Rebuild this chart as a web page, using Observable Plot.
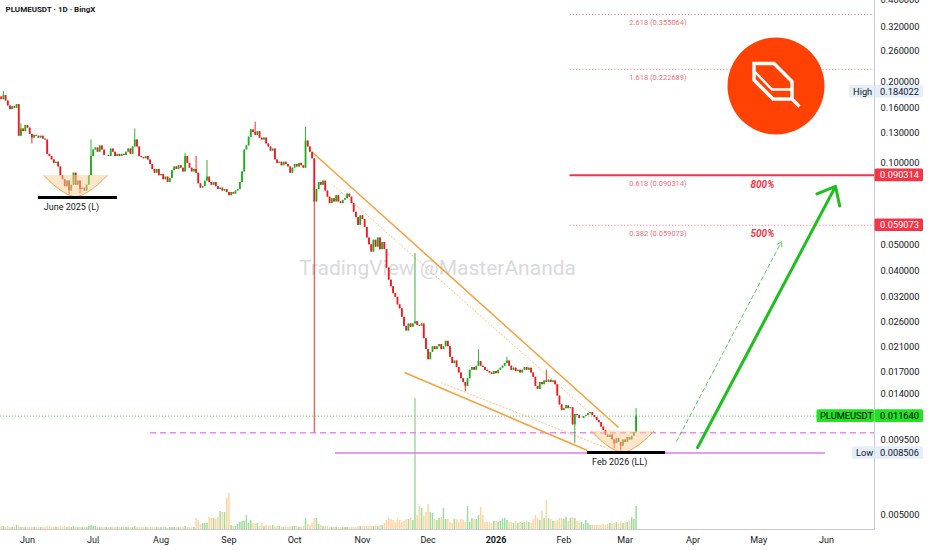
<!DOCTYPE html>
<html><head><meta charset="utf-8">
<script src="https://cdn.jsdelivr.net/npm/d3@7"></script>
<script src="https://cdn.jsdelivr.net/npm/@observablehq/plot@0.6"></script>
<style>
body{margin:0;background:#fff;font-family:Roboto,sans-serif;}
#wrap{position:relative;width:932px;height:550px;overflow:hidden;background:#fff;}
#wrap svg{position:absolute;left:0;top:0;}
</style></head><body><div id="wrap"></div>
<script>
// ---------- data ----------
const title = "PLUMEUSDT · 1D · BingX";
const watermark = "TradingView @MasterAnanda";
const firstDay = Date.UTC(2025, 4, 20);
const firstOpen = 0.176;
const closeMay25 = [0.172,0.178,0.170,0.163,0.158,0.162,0.160,0.165,0.126,0.134,0.131,0.138];
const closeJun25 = [0.135,0.128,0.124,0.127,0.126,0.124,0.126,0.123,0.122,0.108,0.106,0.103,0.100,0.101,0.097,0.090,0.087,0.082,0.086,0.079,0.083,0.092,0.083,0.086,0.080,0.081,0.079,0.083,0.090,0.106];
const closeJul25 = [0.112,0.114,0.110,0.116,0.112,0.107,0.107,0.106,0.113,0.110,0.106,0.108,0.106,0.108,0.107,0.110,0.113,0.108,0.115,0.122,0.115,0.106,0.105,0.104,0.106,0.103,0.099,0.095,0.092,0.095,0.090];
const closeAug25 = [0.091,0.087,0.089,0.085,0.088,0.094,0.097,0.095,0.098,0.096,0.093,0.106,0.100,0.096,0.093,0.095,0.092,0.084,0.081,0.082,0.086,0.089,0.085,0.083,0.085,0.082,0.080,0.081,0.079,0.080,0.078];
const closeSep25 = [0.076,0.078,0.077,0.079,0.080,0.085,0.093,0.112,0.116,0.125,0.133,0.130,0.127,0.131,0.124,0.122,0.124,0.118,0.115,0.111,0.113,0.103,0.100,0.101,0.098,0.101,0.099,0.097,0.092,0.096];
const closeOct25 = [0.099,0.097,0.100,0.098,0.096,0.121,0.115,0.110,0.104,0.072,0.080,0.085,0.083,0.086,0.079,0.075,0.071,0.074,0.072,0.076,0.072,0.071,0.073,0.074,0.077,0.075,0.071,0.066,0.063,0.059,0.064];
const closeNov25 = [0.062,0.058,0.053,0.050,0.047,0.052,0.049,0.053,0.048,0.051,0.048,0.041,0.037,0.035,0.033,0.032,0.030,0.029,0.027,0.025,0.024,0.0255,0.0248,0.0255,0.0260,0.0252,0.0250,0.0255,0.0225,0.0205];
const closeDec25 = [0.0188,0.0200,0.0210,0.0205,0.0210,0.0214,0.0205,0.0210,0.0220,0.0210,0.0192,0.0182,0.0186,0.0176,0.0168,0.0160,0.0155,0.0150,0.0160,0.0172,0.0176,0.0172,0.0178,0.0185,0.0178,0.0176,0.0172,0.0170,0.0168,0.0166,0.0170];
const closeJan26 = [0.0167,0.0172,0.0175,0.0178,0.0182,0.0186,0.0178,0.0172,0.0175,0.0170,0.0172,0.0168,0.0172,0.0176,0.0172,0.0175,0.0168,0.0162,0.0150,0.0146,0.0155,0.0152,0.0157,0.0155,0.0158,0.0155,0.0157,0.0152,0.0138,0.0128,0.0122];
const closeFeb26 = [0.0124,0.0127,0.0124,0.0125,0.0108,0.0118,0.0117,0.0114,0.0114,0.0116,0.0117,0.0119,0.0120,0.0117,0.0115,0.0112,0.0110,0.0106,0.0103,0.0099,0.0097,0.0099,0.0095,0.0092,0.0096,0.0093,0.0090,0.0095];
const closeMar26 = [0.0093,0.0097,0.0095,0.0098,0.0101,0.01164];

const volMay25 = [3,3,2,3,2,2,2,4,3,2,2,2];
const volJun25 = [2,2,2,2,2,2,2,2,2,3,3,2,2,2,2,3,2,3,2,3,2,3,2,2,2,2,2,2,3,4];
const volJul25 = [3,3,2,2,2,2,2,2,2,2,2,2,2,2,2,2,2,2,2,3,2,2,2,2,2,2,2,2,2,2,2];
const volAug25 = [2,2,2,1,2,2,2,2,2,2,2,3,2,2,2,2,11,9,5,6,6,6,12,11,11,10,12,18,17,17,31];
const volSep25 = [36,4,3,3,5,7,8,8,14,6,9,6,5,6,3,6,3,4,3,3,4,3,3,3,2,2,3,2,3,3];
const volOct25 = [3,3,2,2,3,11,5,4,6,11,11,5,4,3,3,3,2,2,2,2,2,2,2,2,2,2,2,2,2,3,3];
const volNov25 = [3,3,3,3,3,3,4,3,4,4,6,9,11,10,9,7,11,9,7,8,10,10,11,9,131,14,23,21,13,17];
const volDec25 = [25,17,16,10,9,11,12,21,10,10,7,6,10,10,7,10,9,7,23,7,11,10,10,14,22,14,7,7,7,6,8];
const volJan26 = [8,7,8,10,11,9,7,7,6,8,6,7,6,7,8,7,6,10,14,11,9,18,11,29,11,10,8,8,9,11,11];
const volFeb26 = [10,12,8,11,12,11,8,6,7,5,9,6,4,4,4,4,4,4,5,4,5,6,5,6,7,5,8,6];
const volMar26 = [6,7,8,12,10,23];

const wickHighs = [["2025-05-21",0.184022],["2025-05-29",0.140],["2025-06-30",0.122],["2025-07-20",0.134],["2025-08-12",0.109],["2025-08-17",0.106],["2025-08-22",0.1025],["2025-09-13",0.142],["2025-10-06",0.136],["2025-11-25",0.0464],["2025-12-24",0.0205],["2026-01-06",0.0192],["2026-01-24",0.0172],["2026-03-06",0.0124]];
const wickLows = [["2025-06-03",0.118],["2025-06-20",0.0765],["2025-06-25",0.0772],["2025-10-10",0.0101],["2025-12-18",0.0143],["2026-02-06",0.0092],["2026-02-24",0.0088],["2026-02-27",0.008506]];

const yTicks = [0.4,0.32,0.26,0.2,0.16,0.13,0.1,0.08,0.065,0.05,0.04,0.032,0.026,0.021,0.017,0.014,0.0095,0.0075,0.0061,0.005];
const monthTicks = ["2025-06-01","2025-07-01","2025-08-01","2025-09-01","2025-10-01","2025-11-01","2025-12-01","2026-01-01","2026-02-01","2026-03-01","2026-04-01","2026-05-01","2026-06-01"];

const fibLevels = [{ratio:"2.618",price:0.355064},{ratio:"1.618",price:0.222689},{ratio:"0.618",price:0.090314},{ratio:"0.382",price:0.059073}];
const fibStart = "2026-02-03T20:00Z", fibLabelAt = "2026-03-16T00:00Z";
const targets = [{text:"800%",price:0.090314},{text:"500%",price:0.059073}];
const targetAt = "2026-05-02T17:00Z";
const supportDashed = {price:0.0101, from:"2025-07-27T05:00Z"};
const lowLine = {price:0.008506, from:"2025-10-19T17:00Z", to:"2026-05-31T12:00Z"};
const lowMarks = [
  {label:"June 2025 (L)", price:0.0748, from:"2025-06-06T00:00Z", to:"2025-07-12T02:00Z", at:"2025-06-21T02:00Z"},
  {label:"Feb 2026 (LL)", price:0.00853, from:"2026-02-11T19:00Z", to:"2026-03-19T12:00Z", at:"2026-02-26T12:00Z"}
];
const bowl1 = {top:0.0902, pts:[["2025-06-08T13:00Z",0.0902],["2025-06-13T00:00Z",0.0832],["2025-06-17T14:00Z",0.0782],["2025-06-22T22:00Z",0.0754],["2025-06-28T06:00Z",0.0782],["2025-07-02T20:00Z",0.0832],["2025-07-07T08:00Z",0.0902]]};
const bowl2 = {top:0.01023, pts:[["2026-02-13T16:00Z",0.01023],["2026-02-18T01:00Z",0.009444],["2026-02-22T13:00Z",0.008876],["2026-02-27T19:00Z",0.00857],["2026-03-05T02:00Z",0.008876],["2026-03-09T14:00Z",0.009444],["2026-03-13T23:00Z",0.01023]]};
const trendSolid = [
  {x1:"2025-10-09T05:00Z",y1:0.1097,x2:"2026-02-26T00:00Z",y2:0.01056},
  {x1:"2025-11-20T05:00Z",y1:0.01687,x2:"2026-02-11T19:00Z",y2:0.00869}
];
const trendThin = [
  {x1:"2025-10-18T19:00Z",y1:0.0829,x2:"2026-02-25T12:00Z",y2:0.0097},
  {x1:"2025-12-06T17:00Z",y1:0.01549,x2:"2026-02-21T00:00Z",y2:0.00884}
];
const arrowSolid = [{x1:"2026-04-03T02:00Z",y1:0.00891,x2:"2026-06-05T02:00Z",y2:0.0822}];
const arrowDashed = [{x1:"2026-03-24T12:00Z",y1:0.00939,x2:"2026-05-11T11:00Z",y2:0.0514}];

// ---------- build ----------
const D = s => new Date(s);
const closes = [].concat(closeMay25,closeJun25,closeJul25,closeAug25,closeSep25,closeOct25,closeNov25,closeDec25,closeJan26,closeFeb26,closeMar26);
const vols = [].concat(volMay25,volJun25,volJul25,volAug25,volSep25,volOct25,volNov25,volDec25,volJan26,volFeb26,volMar26);
const hiMap = Object.fromEntries(wickHighs), loMap = Object.fromEntries(wickLows);
const candles = closes.map((c,i) => {
  const date = new Date(firstDay + i*864e5);
  const key = date.toISOString().slice(0,10);
  const o = i ? closes[i-1] : firstOpen;
  const h = Math.max(o, c, hiMap[key] ?? 0);
  const l = Math.min(o, c, loMap[key] ?? Infinity);
  return {date, o, c, h, l, v: vols[i], up: c >= o};
});
const lastClose = closes[closes.length-1];
const maxHigh = d3.max(candles, d => d.h), minLow = d3.min(candles, d => d.l);

const xDomain = [D("2025-05-19T16:00Z"), D("2026-06-22T21:40Z")];
const common = {width:932, height:550, marginLeft:0, marginRight:58, marginTop:0, marginBottom:21,
  style:{background:"transparent", fontFamily:"Roboto, sans-serif", overflow:"visible"}};
const upC = "#1aae1a", dnC = "#f4161c";

const volChart = Plot.plot({...common,
  x:{type:"utc", domain:xDomain, axis:null},
  y:{domain:[0,529], axis:null},
  marks:[
    Plot.ruleX(candles.filter(d=>d.up), {x:"date", y1:0, y2:"v", stroke:"rgba(55,190,55,0.5)", strokeWidth:1.5}),
    Plot.ruleX(candles.filter(d=>!d.up), {x:"date", y1:0, y2:"v", stroke:"rgba(255,160,45,0.45)", strokeWidth:1.5})
  ]});

const bowlRows = b => b.pts.map(([d,p]) => ({date:D(d), price:p, top:b.top}));
const T = a => a.map(d => ({...d, x1:D(d.x1), x2:D(d.x2)}));

const chart = Plot.plot({...common,
  x:{type:"utc", domain:xDomain},
  y:{type:"log", domain:[0.004434, 0.4]},
  marks:[
    Plot.text([title], {frameAnchor:"top-left", dx:5, dy:6, fontSize:8, fontWeight:"bold", fill:"#131722"}),
    Plot.text([watermark], {frameAnchor:"middle", dy:3, fontSize:21, fill:"#d9dadd"}),
    // horizontal levels
    Plot.ruleY([lastClose], {stroke:"#5fd35f", strokeDasharray:"1,2", strokeWidth:1}),
    Plot.ruleY([supportDashed], {y:"price", x1:d=>D(d.from), x2:()=>xDomain[1], stroke:"#e58cf2", strokeDasharray:"6,4", strokeWidth:1.5}),
    Plot.ruleY([lowLine], {y:"price", x1:d=>D(d.from), x2:d=>D(d.to), stroke:"#e07af0", strokeWidth:1.5}),
    Plot.ruleY(fibLevels.filter(d=>d.ratio!=="0.618"), {y:"price", x1:()=>D(fibStart), x2:()=>xDomain[1], stroke:"#f58a90", strokeDasharray:"1.2,2", strokeWidth:1}),
    Plot.ruleY(fibLevels.filter(d=>d.ratio==="0.618"), {y:"price", x1:()=>D(fibStart), x2:()=>xDomain[1], stroke:"#f23645", strokeWidth:2}),
    Plot.text(fibLevels, {x:()=>D(fibLabelAt), y:"price", text:d=>`${d.ratio} (${d.price.toFixed(6)})`, dy:8.5, fontSize:7.5, fill:"#f2707a"}),
    Plot.text(targets, {x:()=>D(targetAt), y:"price", text:"text", dy:9, fontSize:10, fontWeight:"bold", fontStyle:"italic", fill:"#f23645"}),
    // trend lines
    Plot.link(T(trendThin), {x1:"x1", y1:"y1", x2:"x2", y2:"y2", stroke:"#ffc27a", strokeWidth:1, strokeDasharray:"2,1.5"}),
    Plot.link(T(trendSolid), {x1:"x1", y1:"y1", x2:"x2", y2:"y2", stroke:"#f9a03c", strokeWidth:1.5}),
    // candles
    Plot.ruleX(candles, {x:"date", y1:"l", y2:"h", stroke:d=>d.up?upC:dnC, strokeWidth:0.9}),
    Plot.ruleX(candles, {x:"date", y1:"o", y2:"c", stroke:d=>d.up?upC:dnC, strokeWidth:1.8}),
    // bowls
    Plot.areaY(bowlRows(bowl1), {x:"date", y1:"top", y2:"price", curve:"natural", fill:"rgba(253,205,150,0.5)"}),
    Plot.line(bowlRows(bowl1), {x:"date", y:"price", curve:"natural", stroke:"#ff9a3c", strokeWidth:1}),
    Plot.areaY(bowlRows(bowl2), {x:"date", y1:"top", y2:"price", curve:"natural", fill:"rgba(253,205,150,0.5)"}),
    Plot.line(bowlRows(bowl2), {x:"date", y:"price", curve:"natural", stroke:"#ff9a3c", strokeWidth:1}),
    // low markers
    Plot.ruleY(lowMarks, {y:"price", x1:d=>D(d.from), x2:d=>D(d.to), stroke:"#000", strokeWidth:3}),
    Plot.text(lowMarks, {x:d=>D(d.at), y:"price", text:"label", dy:9.5, fontSize:9, fill:"#131722"}),
    // arrows
    Plot.arrow(T(arrowDashed), {x1:"x1", y1:"y1", x2:"x2", y2:"y2", stroke:"#55cf55", strokeWidth:1, strokeDasharray:"4,3", headLength:8}),
    Plot.arrow(T(arrowSolid), {x1:"x1", y1:"y1", x2:"x2", y2:"y2", stroke:"#1fbf1f", strokeWidth:3, headLength:10, headAngle:80}),
    // axes
    Plot.frame({anchor:"right", stroke:"#c9ccd3"}),
    Plot.frame({anchor:"bottom", stroke:"#c9ccd3"}),
    Plot.axisY({anchor:"right", ticks:yTicks, tickFormat:d=>d.toFixed(6), tickSize:0, tickPadding:6, fontSize:9.3, color:"#131722", label:null}),
    Plot.axisX({ticks:monthTicks.map(D), tickFormat:d=>d.getUTCMonth()===0 ? String(d.getUTCFullYear()) : d3.utcFormat("%b")(d), tickSize:0, tickPadding:7, fontSize:9, color:"#131722", label:null})
  ]});

const wrap = document.getElementById("wrap");
wrap.appendChild(volChart);
wrap.appendChild(chart);

const svg = d3.select(chart);
svg.selectAll("text").filter(function(){return this.textContent==="2026";}).attr("font-weight","bold");

// badges on the price axis (positions from the y scale)
const ys = chart.scale("y");
function badge(value, opts){
  const cy = ys.apply(value);
  const g = svg.append("g").attr("font-family","Roboto, sans-serif").attr("font-size",9.3).attr("text-anchor","start");
  if (opts.label) {
    g.append("rect").attr("x",opts.lx).attr("y",cy-6.3).attr("width",874-opts.lx).attr("height",12.6).attr("rx",1.5).attr("fill",opts.lbg||opts.bg);
    g.append("text").attr("x",opts.ltx).attr("y",cy).attr("dominant-baseline","central").attr("fill",opts.lfg||opts.fg).text(opts.label);
  }
  g.append("rect").attr("x",874.5).attr("y",cy-6.3).attr("width",48.5).attr("height",12.6).attr("rx",1.5).attr("fill",opts.bg);
  g.append("text").attr("x",880).attr("y",cy).attr("dominant-baseline","central").attr("fill",opts.fg).text(value.toFixed(6));
}
badge(maxHigh, {bg:"#e4eefb", fg:"#131722", label:"High", lx:849, ltx:853});
badge(fibLevels[2].price, {bg:"#f23645", fg:"#ffffff"});
badge(fibLevels[3].price, {bg:"#f23645", fg:"#ffffff"});
badge(lastClose, {bg:"#22e322", fg:"#000000", label:"PLUMEUSDT", lx:816.5, ltx:820});
badge(minLow, {bg:"#e4eefb", fg:"#131722", label:"Low", lx:852, ltx:856});

// logo
const logo = svg.append("g").attr("fill","none").attr("stroke","#fff").attr("stroke-linejoin","miter");
logo.append("circle").attr("cx",776).attr("cy",86).attr("r",48.5).attr("fill","#ff4204").attr("stroke","none");
logo.append("path").attr("d","M754,63.5 H774 L792,81.5 V99 H773 L754,80 Z").attr("stroke-width",3.4);
logo.append("path").attr("d","M754,71 L772,89.5 H792").attr("stroke-width",2.4);
logo.append("path").attr("d","M791,98 L799.5,106.5").attr("stroke-width",3.2);
</script></body></html>
